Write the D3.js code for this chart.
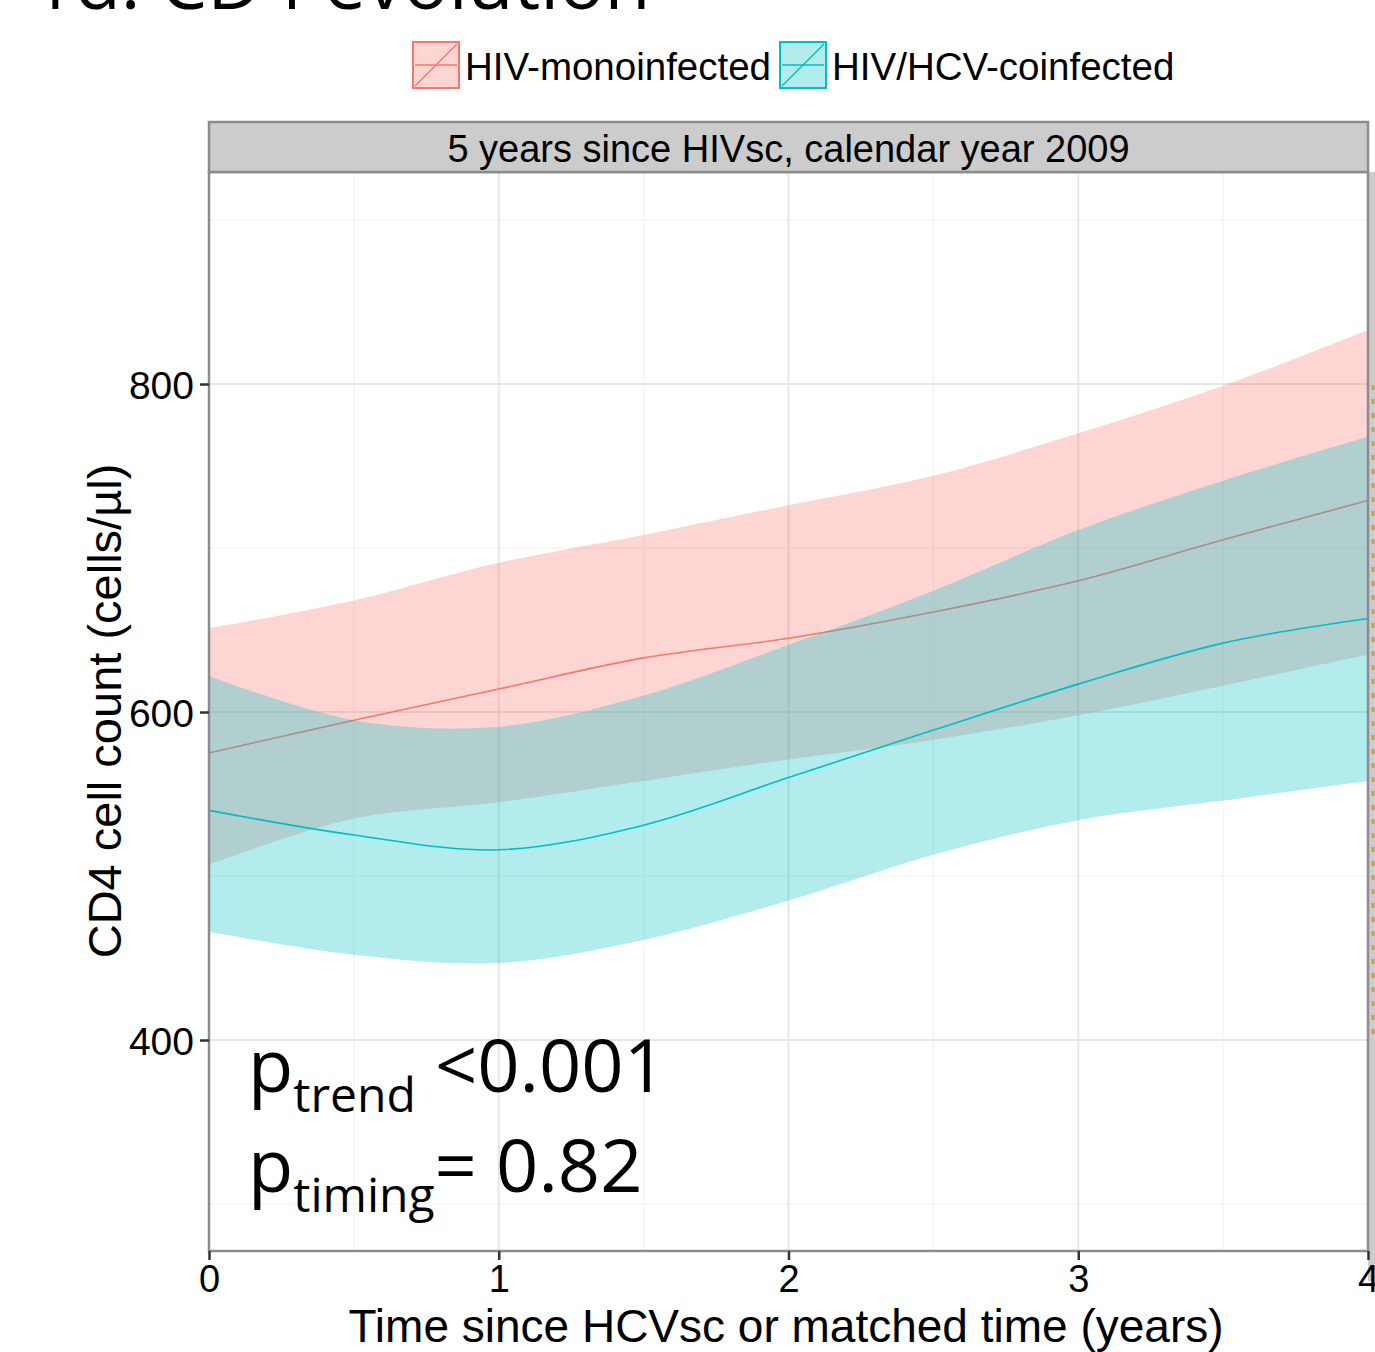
<!DOCTYPE html>
<html>
<head>
<meta charset="utf-8">
<script src="https://cdn.jsdelivr.net/npm/d3@7"></script>
<style>
  body { margin: 0; background: #fff; }
  svg { display: block; }
</style>
</head>
<body>
<div id="chart"></div>
<script>
// values
const years = [0, 0.5, 1, 1.5, 2, 2.5, 3, 3.5, 4];
const monoMean  = [575, 595, 614, 633, 645, 661, 680, 705, 729];
const monoUpper = [651, 668, 691, 708, 726, 744, 770, 799, 833];
const monoLower = [507, 535, 545, 558, 571, 583, 598, 616, 635];
const coMean  = [540, 525, 516, 531, 560, 589, 617, 642, 657];
const coUpper = [622, 595, 591, 610, 641, 674, 711, 741, 768];
const coLower = [466, 452, 447, 461, 485, 513, 534, 546, 558];
const groups = ["HIV-monoinfected", "HIV/HCV-coinfected"];
const groupColors = ["#F8766D", "#00BFC4"];
const yTicks = [400, 600, 800];
const xTicks = [0, 1, 2, 3, 4];

var width = 1375, height = 1352;
var panel = { left: 209, right: 1368, top: 172, bottom: 1251 };
var sansFont = "Liberation Sans, Arial, sans-serif";

var svg = d3.select("#chart").append("svg")
    .attr("width", width)
    .attr("height", height);

var x = d3.scaleLinear().domain([0, 4]).range([panel.left, panel.right]);
var y = d3.scaleLinear().domain([400, 800]).range([1040, 384]);

// clipped-off title at the very top
svg.append("text")
    .attr("x", 32).attr("y", 9)
    .style("font-family", "Open Sans, Lato, sans-serif")
    .style("font-size", "75px")
    .text("1d. CD4 evolution");

// next facet peeking in at the right edge
svg.append("rect")
    .attr("x", panel.right).attr("y", panel.top)
    .attr("width", 10).attr("height", panel.bottom - panel.top + 30)
    .attr("fill", "#cccccc");
svg.append("line")
    .attr("x1", 1373).attr("x2", 1373).attr("y1", 385).attr("y2", 1040)
    .attr("stroke", "#c9a23c").attr("stroke-width", 3).attr("stroke-dasharray", "5,9");

var defs = svg.append("defs");
defs.append("clipPath").attr("id", "clip")
    .append("rect")
    .attr("x", panel.left).attr("y", panel.top)
    .attr("width", panel.right - panel.left).attr("height", panel.bottom - panel.top);

// panel background and grid
svg.append("rect")
    .attr("x", panel.left).attr("y", panel.top)
    .attr("width", panel.right - panel.left).attr("height", panel.bottom - panel.top)
    .attr("fill", "#fff");

var grid = svg.append("g");
grid.selectAll(".minorY").data([300, 500, 700, 900]).enter().append("line")
    .attr("x1", panel.left).attr("x2", panel.right)
    .attr("y1", d => y(d)).attr("y2", d => y(d))
    .attr("stroke", "#f4f4f4").attr("stroke-width", 1.5);
grid.selectAll(".minorX").data([0.5, 1.5, 2.5, 3.5]).enter().append("line")
    .attr("y1", panel.top).attr("y2", panel.bottom)
    .attr("x1", d => x(d)).attr("x2", d => x(d))
    .attr("stroke", "#f4f4f4").attr("stroke-width", 1.5);
grid.selectAll(".majorY").data(yTicks).enter().append("line")
    .attr("x1", panel.left).attr("x2", panel.right)
    .attr("y1", d => y(d)).attr("y2", d => y(d))
    .attr("stroke", "#e6e6e6").attr("stroke-width", 2);
grid.selectAll(".majorX").data(xTicks).enter().append("line")
    .attr("y1", panel.top).attr("y2", panel.bottom)
    .attr("x1", d => x(d)).attr("x2", d => x(d))
    .attr("stroke", "#e6e6e6").attr("stroke-width", 2);

// ribbons + lines, mono first, then coinfected on top
var series = [
    { mean: monoMean, lo: monoLower, hi: monoUpper, color: groupColors[0] },
    { mean: coMean, lo: coLower, hi: coUpper, color: groupColors[1] }
];

var area = d3.area()
    .x(d => x(d.t)).y0(d => y(d.lo)).y1(d => y(d.hi))
    .curve(d3.curveCatmullRom);
var line = d3.line()
    .x(d => x(d.t)).y(d => y(d.v))
    .curve(d3.curveCatmullRom);

var plot = svg.append("g").attr("clip-path", "url(#clip)");
series.forEach(function (s) {
    var pts = years.map((t, i) => ({ t: t, lo: s.lo[i], hi: s.hi[i], v: s.mean[i] }));
    plot.append("path")
        .attr("d", area(pts))
        .attr("fill", s.color).attr("fill-opacity", 0.3);
    plot.append("path")
        .attr("d", line(pts))
        .attr("fill", "none").attr("stroke", s.color).attr("stroke-width", 1.6);
});

// panel border
svg.append("rect")
    .attr("x", panel.left).attr("y", panel.top)
    .attr("width", panel.right - panel.left).attr("height", panel.bottom - panel.top)
    .attr("fill", "none").attr("stroke", "#8c8c8c").attr("stroke-width", 2.5);

// strip
svg.append("rect")
    .attr("x", panel.left).attr("y", 122)
    .attr("width", panel.right - panel.left).attr("height", panel.top - 122)
    .attr("fill", "#cccccc").attr("stroke", "#8c8c8c").attr("stroke-width", 2.5);
svg.append("text")
    .attr("x", (panel.left + panel.right) / 2).attr("y", 162)
    .attr("text-anchor", "middle")
    .style("font-family", sansFont)
    .style("font-size", "38px")
    .text("5 years since HIVsc, calendar year 2009");

// axes
var yAxis = svg.append("g")
    .attr("transform", "translate(" + panel.left + ",0)")
    .call(d3.axisLeft(y).tickValues(yTicks).tickSize(9).tickPadding(6));
var xAxis = svg.append("g")
    .attr("transform", "translate(0," + panel.bottom + ")")
    .call(d3.axisBottom(x).tickValues(xTicks).tickFormat(d3.format("d")).tickSize(9).tickPadding(5));
[xAxis, yAxis].forEach(function (a) {
    a.select(".domain").remove();
    a.selectAll(".tick line").attr("stroke", "#333").attr("stroke-width", 2.5);
    a.selectAll(".tick text")
        .attr("fill", "#000")
        .style("font-family", sansFont)
        .style("font-size", "39px");
});
xAxis.selectAll(".tick text").style("font-size", "38px").attr("dy", "0.72em");
yAxis.selectAll(".tick text").attr("dy", "0.36em");

// axis titles
svg.append("text")
    .attr("x", 786).attr("y", 1342)
    .attr("text-anchor", "middle")
    .style("font-family", sansFont)
    .style("font-size", "46px")
    .text("Time since HCVsc or matched time (years)");
svg.append("text")
    .attr("transform", "translate(121,711) rotate(-90)")
    .attr("text-anchor", "middle")
    .style("font-family", sansFont)
    .style("font-size", "47px")
    .text("CD4 cell count (cells/\u00b5l)");

// legend
var legendX = [413, 780];
var legend = svg.append("g");
groups.forEach(function (g, i) {
    var lg = legend.append("g").attr("transform", "translate(" + legendX[i] + ",42)");
    lg.append("rect")
        .attr("width", 46).attr("height", 46)
        .attr("fill", groupColors[i]).attr("fill-opacity", 0.3)
        .attr("stroke", groupColors[i]).attr("stroke-width", 2);
    lg.append("line")
        .attr("x1", 2).attr("x2", 44).attr("y1", 23).attr("y2", 23)
        .attr("stroke", groupColors[i]).attr("stroke-width", 1.6);
    lg.append("line")
        .attr("x1", 2).attr("x2", 44).attr("y1", 44).attr("y2", 2)
        .attr("stroke", groupColors[i]).attr("stroke-width", 1.4);
    lg.append("text")
        .attr("x", 52).attr("y", 38)
        .style("font-family", sansFont)
        .style("font-size", "38.5px")
        .text(g);
});

// p-value annotation
var ann = svg.append("g")
    .style("font-family", "Open Sans, Lato, sans-serif")
    .attr("fill", "#000");
var t1 = ann.append("text").attr("x", 248).attr("y", 1092).style("font-size", "74px");
t1.append("tspan").text("p");
t1.append("tspan").attr("dy", 20).style("font-size", "48px").text("trend");
t1.append("tspan").attr("dy", -20).text(" <0.001");
var t2 = ann.append("text").attr("x", 248).attr("y", 1192).style("font-size", "74px");
t2.append("tspan").text("p");
t2.append("tspan").attr("dy", 20).style("font-size", "48px").text("timing");
t2.append("tspan").attr("dy", -20).text("= 0.82");
</script>
</body>
</html>
